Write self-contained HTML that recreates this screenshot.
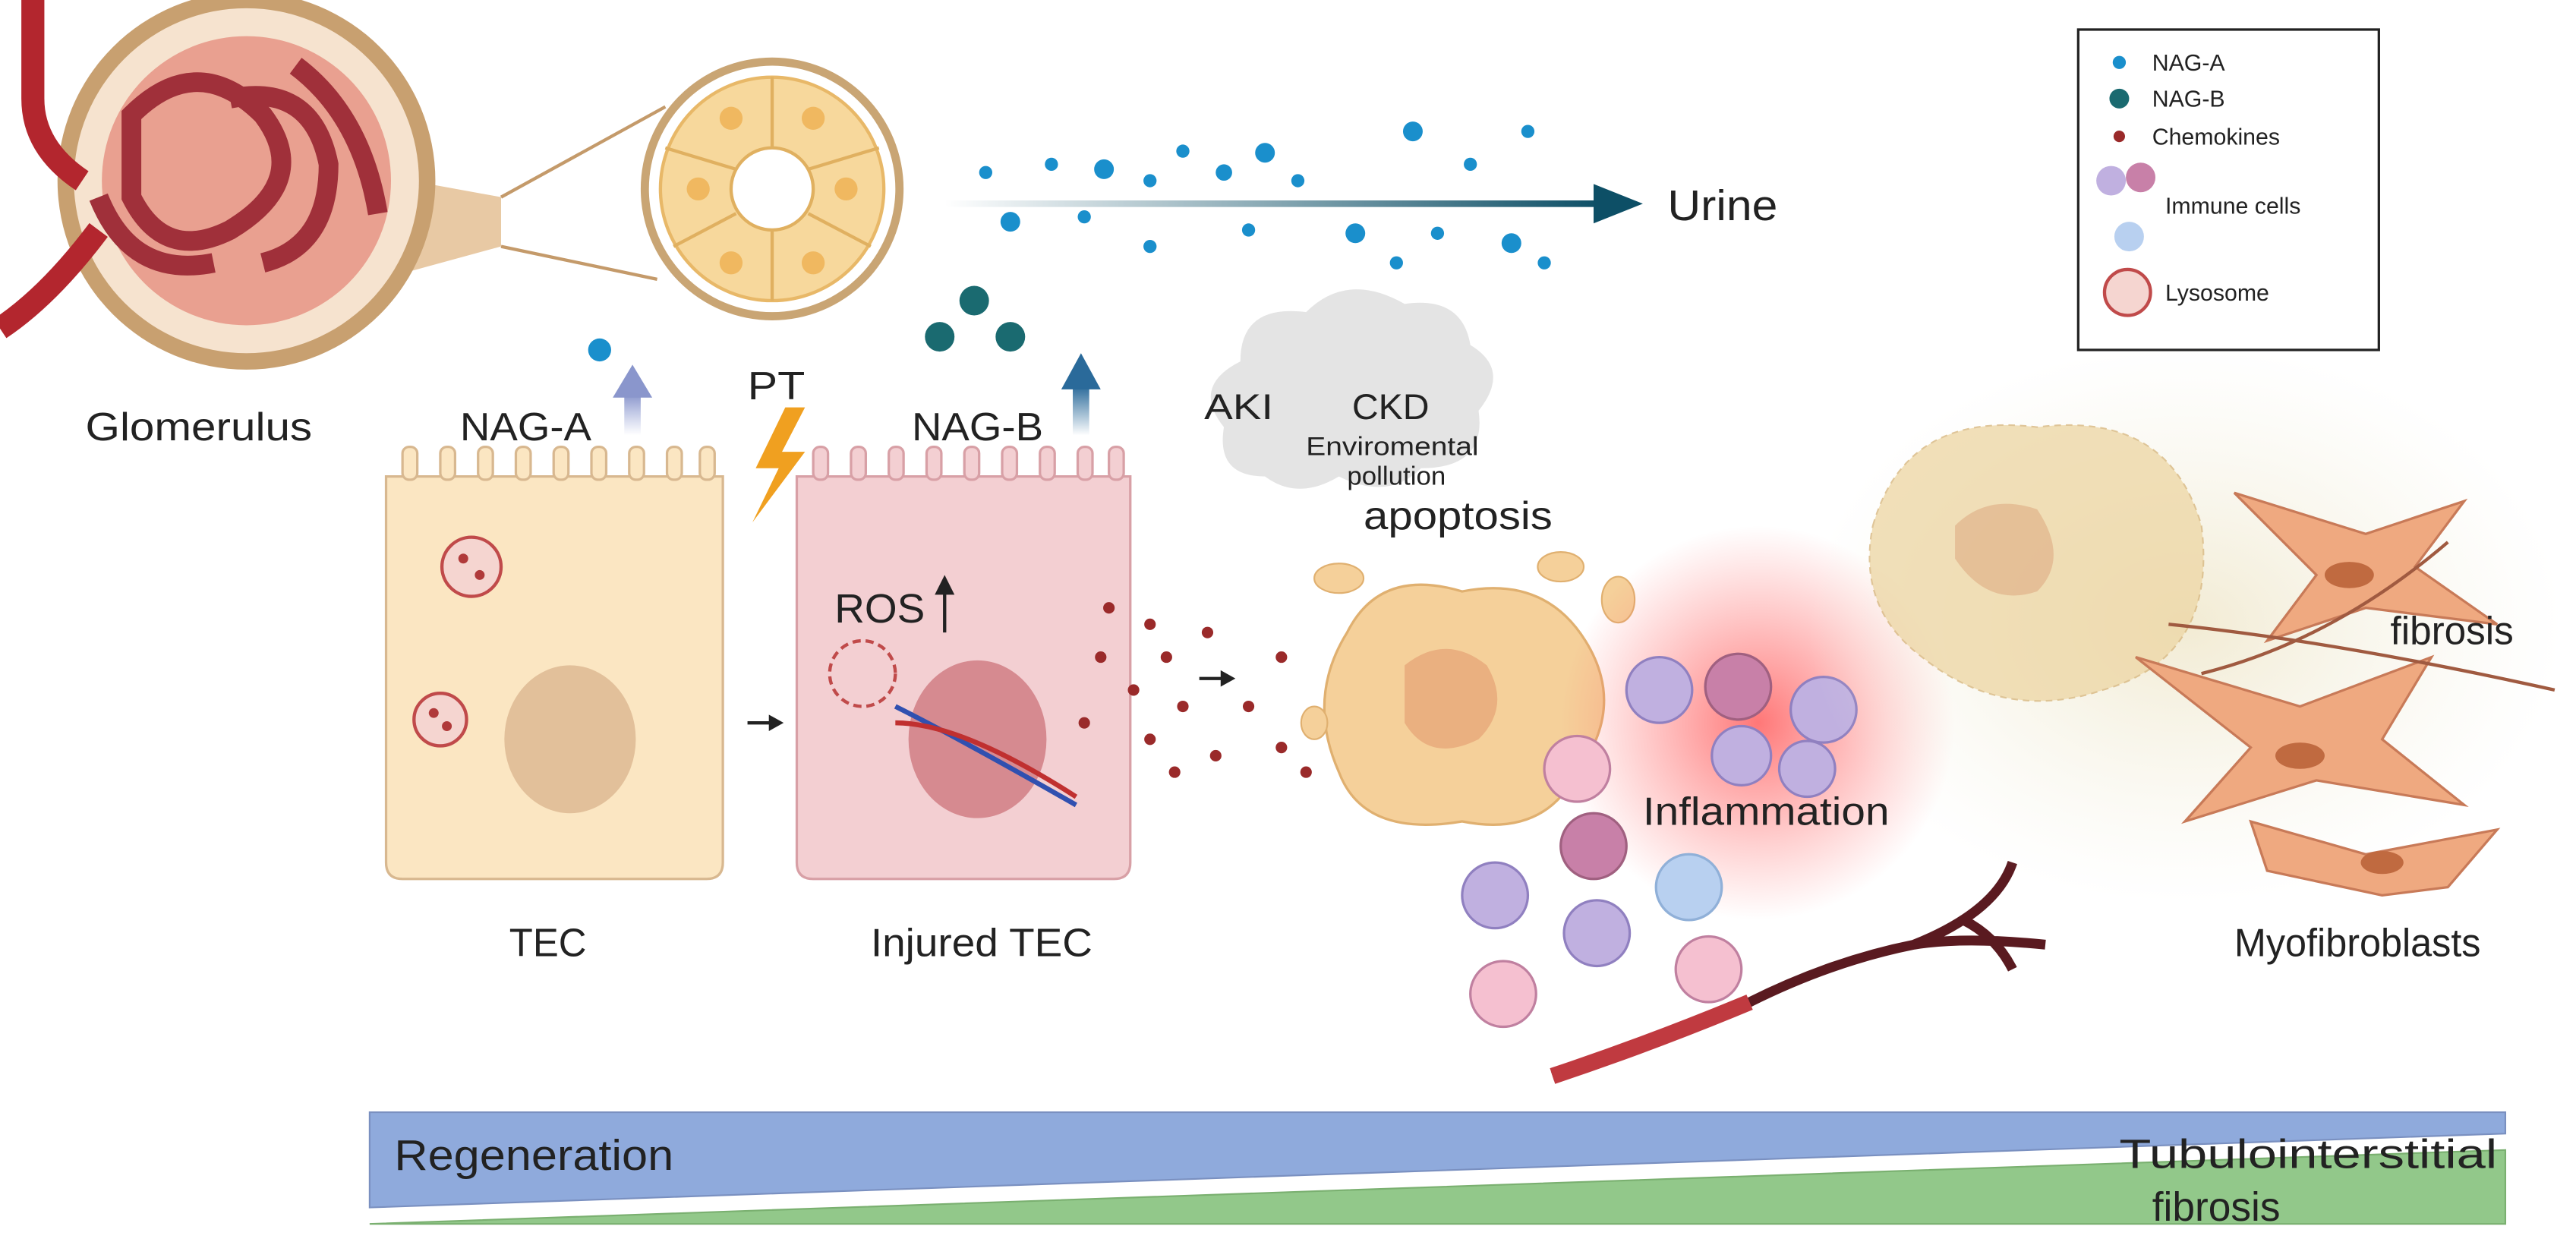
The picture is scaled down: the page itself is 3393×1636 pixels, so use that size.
<!DOCTYPE html>
<html><head><meta charset="utf-8"><style>
html,body{margin:0;padding:0;background:#fff;}
svg{display:block;}
text{font-family:"Liberation Sans",sans-serif;fill:#222;}
</style></head><body>
<svg width="3393" height="1636" viewBox="0 0 1568 756" preserveAspectRatio="none" xmlns="http://www.w3.org/2000/svg">
<defs>
<linearGradient id="ua" x1="0" x2="1"><stop offset="0" stop-color="#0d4f66" stop-opacity="0"/><stop offset="1" stop-color="#0d4f66"/></linearGradient>
<linearGradient id="pa" x1="0" y1="1" x2="0" y2="0"><stop offset="0" stop-color="#9aa6d8" stop-opacity="0"/><stop offset="1" stop-color="#8a96cc"/></linearGradient>
<linearGradient id="ba" x1="0" y1="1" x2="0" y2="0"><stop offset="0" stop-color="#2a6a9a" stop-opacity="0"/><stop offset="1" stop-color="#2a6a9a"/></linearGradient>
<radialGradient id="inf"><stop offset="0" stop-color="#ff4a4a" stop-opacity=".75"/><stop offset="1" stop-color="#ff6a6a" stop-opacity="0"/></radialGradient>
<radialGradient id="fib"><stop offset="0" stop-color="#efe6c8" stop-opacity=".8"/><stop offset="1" stop-color="#f2f0e0" stop-opacity="0"/></radialGradient>
</defs>
<!-- glomerulus -->
<path d="M250,110 L305,120 L305,150 L250,165Z" fill="#e8c9a4"/>
<circle cx="150" cy="110" r="115" fill="#c8a070"/>
<circle cx="150" cy="110" r="105" fill="#f6e3cf"/>
<circle cx="150" cy="110" r="88" fill="#e9a090"/>
<path d="M80,70 q40,-40 80,0 q30,40 -20,70 q-40,20 -60,-20z M140,60 q50,-10 60,40 q0,50 -40,60 M60,120 q20,50 70,40 M180,40 q40,30 50,90" fill="none" stroke="#a0303a" stroke-width="12"/>
<path d="M20,0 L20,60 q0,30 30,50 M0,200 q30,-20 60,-60" fill="none" stroke="#b3262e" stroke-width="14"/>
<path d="M305,120 L405,65 M305,150 L400,170" stroke="#c49a6a" stroke-width="2"/>
<circle cx="470" cy="115" r="80" fill="#c9a574"/>
<circle cx="470" cy="115" r="75" fill="#fff"/>
<circle cx="470" cy="115" r="68" fill="#f7d89c" stroke="#e8b868" stroke-width="2"/>
<g stroke="#e0b060" stroke-width="2"><line x1="470" y1="47" x2="470" y2="90"/><line x1="470" y1="140" x2="470" y2="183"/><line x1="405" y1="90" x2="448" y2="103"/><line x1="535" y1="90" x2="492" y2="103"/><line x1="410" y1="150" x2="448" y2="130"/><line x1="530" y1="150" x2="492" y2="130"/></g>
<circle cx="470" cy="115" r="25" fill="#fff" stroke="#e0b060" stroke-width="2"/>
<g fill="#f0b860"><circle cx="445" cy="72" r="7"/><circle cx="495" cy="72" r="7"/><circle cx="425" cy="115" r="7"/><circle cx="515" cy="115" r="7"/><circle cx="445" cy="160" r="7"/><circle cx="495" cy="160" r="7"/></g>
<path d="M478,248 L460,285 L474,285 L458,318 L490,275 L476,275 L490,248Z" fill="#f0a020"/>
<!-- urine -->
<rect x="575" y="122" width="400" height="4" fill="url(#ua)"/>
<path d="M970,112 L1000,124 L970,136Z" fill="#0d4f66"/>
<g fill="#1a8fcc"><circle cx="600" cy="105" r="4"/><circle cx="615" cy="135" r="6"/><circle cx="640" cy="100" r="4"/><circle cx="672" cy="103" r="6"/><circle cx="660" cy="132" r="4"/><circle cx="700" cy="110" r="4"/><circle cx="720" cy="92" r="4"/><circle cx="745" cy="105" r="5"/><circle cx="770" cy="93" r="6"/><circle cx="790" cy="110" r="4"/><circle cx="825" cy="142" r="6"/><circle cx="860" cy="80" r="6"/><circle cx="895" cy="100" r="4"/><circle cx="930" cy="80" r="4"/><circle cx="920" cy="148" r="6"/><circle cx="940" cy="160" r="4"/><circle cx="700" cy="150" r="4"/><circle cx="760" cy="140" r="4"/><circle cx="850" cy="160" r="4"/><circle cx="875" cy="142" r="4"/></g>
<!-- legend -->
<rect x="1265" y="18" width="183" height="195" fill="#fff" stroke="#222" stroke-width="1.5"/>
<circle cx="1290" cy="38" r="4" fill="#1a8fcc"/><text x="1310" y="43" font-size="14">NAG-A</text>
<circle cx="1290" cy="60" r="6" fill="#1a6a70"/><text x="1310" y="65" font-size="14">NAG-B</text>
<circle cx="1290" cy="83" r="3.5" fill="#9a2a2a"/><text x="1310" y="88" font-size="14">Chemokines</text>
<circle cx="1285" cy="110" r="9" fill="#c0b0e0"/><circle cx="1303" cy="108" r="9" fill="#c880a8"/><circle cx="1296" cy="144" r="9" fill="#b8d0f0"/>
<text x="1318" y="130" font-size="14">Immune cells</text>
<circle cx="1295" cy="178" r="14" fill="#f5d5d0" stroke="#c04a4a" stroke-width="2"/><text x="1318" y="183" font-size="14">Lysosome</text>
<!-- TEC -->
<path d="M235,290 L440,290 L440,525 q0,10 -10,10 L245,535 q-10,0 -10,-10Z" fill="#fbe6c2" stroke="#d8b890" stroke-width="1.5"/>
<g fill="#fbe6c2" stroke="#d8b890" stroke-width="1.5"><rect x="245" y="272" width="9" height="20" rx="4"/><rect x="268" y="272" width="9" height="20" rx="4"/><rect x="291" y="272" width="9" height="20" rx="4"/><rect x="314" y="272" width="9" height="20" rx="4"/><rect x="337" y="272" width="9" height="20" rx="4"/><rect x="360" y="272" width="9" height="20" rx="4"/><rect x="383" y="272" width="9" height="20" rx="4"/><rect x="406" y="272" width="9" height="20" rx="4"/><rect x="426" y="272" width="9" height="20" rx="4"/></g>
<ellipse cx="347" cy="450" rx="40" ry="45" fill="#e2c09a"/>
<circle cx="287" cy="345" r="18" fill="#f5d5d0" stroke="#c04a4a" stroke-width="2"/><circle cx="268" cy="438" r="16" fill="#f5d5d0" stroke="#c04a4a" stroke-width="2"/>
<g fill="#b03a3a"><circle cx="282" cy="340" r="3"/><circle cx="292" cy="350" r="3"/><circle cx="264" cy="434" r="3"/><circle cx="272" cy="442" r="3"/></g>
<rect x="380" y="240" width="10" height="25" fill="url(#pa)"/><path d="M373,242 L385,222 L397,242Z" fill="#8a96cc"/>
<circle cx="365" cy="213" r="7" fill="#1a8fcc"/>
<path d="M455,440 L470,440" stroke="#222" stroke-width="2"/><path d="M468,435 L477,440 L468,445Z" fill="#222"/>
<!-- injured TEC -->
<path d="M485,290 L688,290 L688,525 q0,10 -10,10 L495,535 q-10,0 -10,-10Z" fill="#f3cfd2" stroke="#d8a0a6" stroke-width="1.5"/>
<g fill="#f3cfd2" stroke="#d8a0a6" stroke-width="1.5"><rect x="495" y="272" width="9" height="20" rx="4"/><rect x="518" y="272" width="9" height="20" rx="4"/><rect x="541" y="272" width="9" height="20" rx="4"/><rect x="564" y="272" width="9" height="20" rx="4"/><rect x="587" y="272" width="9" height="20" rx="4"/><rect x="610" y="272" width="9" height="20" rx="4"/><rect x="633" y="272" width="9" height="20" rx="4"/><rect x="656" y="272" width="9" height="20" rx="4"/><rect x="675" y="272" width="9" height="20" rx="4"/></g>
<ellipse cx="595" cy="450" rx="42" ry="48" fill="#d68a90"/>
<path d="M545,430 q40,20 110,60" stroke="#3050b0" stroke-width="3" fill="none"/><path d="M545,440 q40,0 110,45" stroke="#c03030" stroke-width="3" fill="none"/>
<circle cx="525" cy="410" r="20" fill="none" stroke="#c04a4a" stroke-width="2" stroke-dasharray="5 3"/>
<path d="M575,385 L575,360" stroke="#222" stroke-width="2"/><path d="M569,362 L575,350 L581,362Z" fill="#222"/>
<rect x="653" y="235" width="10" height="30" fill="url(#ba)"/><path d="M646,237 L658,215 L670,237Z" fill="#2a6a9a"/>
<g fill="#1a6a70"><circle cx="593" cy="183" r="9"/><circle cx="572" cy="205" r="9"/><circle cx="615" cy="205" r="9"/></g>
<!-- chemokines -->
<g fill="#9a2a2a"><circle cx="675" cy="370" r="3.5"/><circle cx="700" cy="380" r="3.5"/><circle cx="670" cy="400" r="3.5"/><circle cx="690" cy="420" r="3.5"/><circle cx="710" cy="400" r="3.5"/><circle cx="720" cy="430" r="3.5"/><circle cx="735" cy="385" r="3.5"/><circle cx="660" cy="440" r="3.5"/><circle cx="700" cy="450" r="3.5"/><circle cx="740" cy="460" r="3.5"/><circle cx="760" cy="430" r="3.5"/><circle cx="780" cy="400" r="3.5"/><circle cx="780" cy="455" r="3.5"/><circle cx="715" cy="470" r="3.5"/><circle cx="795" cy="470" r="3.5"/></g>
<path d="M730,413 L745,413" stroke="#222" stroke-width="2"/><path d="M743,408 L752,413 L743,418Z" fill="#222"/>
<!-- cloud -->
<path d="M770,290 q-30,0 -25,-30 q-20,-25 10,-40 q0,-35 40,-30 q25,-25 60,-5 q35,-5 40,25 q25,15 5,40 q5,35 -35,35 q-20,20 -50,5 q-25,15 -45,0z" fill="#e4e4e4"/>
<!-- apoptotic cell -->
<path d="M820,385 q20,-40 70,-25 q50,-10 75,30 q25,40 -5,80 q-20,40 -70,30 q-60,10 -75,-30 q-20,-45 5,-85z" fill="#f5d09a" stroke="#e0b070" stroke-width="1.5"/>
<path d="M855,405 q25,-20 50,0 q15,25 -5,45 q-30,15 -45,-10z" fill="#eab080"/>
<g fill="#f5d09a" stroke="#e0b070"><ellipse cx="815" cy="352" rx="15" ry="9"/><ellipse cx="950" cy="345" rx="14" ry="9"/><ellipse cx="985" cy="365" rx="10" ry="14"/><ellipse cx="800" cy="440" rx="8" ry="10"/></g>
<!-- inflammation -->
<circle cx="1070" cy="440" r="120" fill="url(#inf)"/>
<g stroke-width="1.5">
<circle cx="1010" cy="420" r="20" fill="#c0b0e0" stroke="#9080c0"/><circle cx="1058" cy="418" r="20" fill="#c880a8" stroke="#a06080"/><circle cx="1110" cy="432" r="20" fill="#c0b0e0" stroke="#9080c0"/>
<circle cx="1060" cy="460" r="18" fill="#c0b0e0" stroke="#9080c0"/><circle cx="1100" cy="468" r="17" fill="#c0b0e0" stroke="#9080c0"/>
<circle cx="960" cy="468" r="20" fill="#f5c0d0" stroke="#c080a0"/><circle cx="970" cy="515" r="20" fill="#c880a8" stroke="#a06080"/><circle cx="1028" cy="540" r="20" fill="#b8d0f0" stroke="#90b0d8"/>
<circle cx="910" cy="545" r="20" fill="#c0b0e0" stroke="#9080c0"/><circle cx="972" cy="568" r="20" fill="#c0b0e0" stroke="#9080c0"/><circle cx="915" cy="605" r="20" fill="#f5c0d0" stroke="#c080a0"/><circle cx="1040" cy="590" r="20" fill="#f5c0d0" stroke="#c080a0"/>
</g>
<!-- vessel -->
<path d="M945,655 q60,-20 120,-45 q50,-25 100,-35 q50,-20 60,-50 M1165,575 q30,-5 80,0 M1195,560 q20,10 30,30" fill="none" stroke="#5a1a20" stroke-width="6"/>
<path d="M945,655 q60,-20 120,-45" fill="none" stroke="#c03a40" stroke-width="10"/>
<!-- fibrosis -->
<ellipse cx="1330" cy="380" rx="230" ry="170" fill="url(#fib)"/>
<path d="M1140,320 q20,-70 100,-60 q80,-10 100,60 q10,80 -60,100 q-60,20 -110,-20 q-40,-30 -30,-80z" fill="#eed8a8" opacity=".8" stroke="#d8b880" stroke-dasharray="4 3"/>
<path d="M1190,320 q20,-20 50,-10 q20,30 0,50 q-30,10 -50,-20z" fill="#e2b890" opacity=".8"/>
<g fill="#efa980" stroke="#c87a58" stroke-width="1.5">
<path d="M1360,300 L1440,325 L1500,305 L1470,345 L1520,380 L1440,370 L1380,390 L1410,350Z"/>
<path d="M1300,400 L1400,430 L1480,400 L1450,450 L1500,490 L1410,475 L1330,500 L1370,455Z"/>
<path d="M1370,500 L1440,520 L1520,505 L1490,540 L1450,545 L1380,530Z"/>
</g>
<g fill="#c06a40"><ellipse cx="1430" cy="350" rx="15" ry="8"/><ellipse cx="1400" cy="460" rx="15" ry="8"/><ellipse cx="1450" cy="525" rx="13" ry="7"/></g>
<path d="M1320,380 q100,10 235,40 M1340,410 q80,-20 150,-80" stroke="#a05a40" stroke-width="2" fill="none"/>
<!-- bottom bars -->
<polygon points="225,677 1525,677 1525,690 225,735" fill="#8faadc" stroke="#7a90c0"/>
<polygon points="225,745 1525,700 1525,745" fill="#92c88a" stroke="#7ab070"/>
<!-- labels -->
<g font-size="24">
<text x="52" y="268" textLength="138" lengthAdjust="spacingAndGlyphs">Glomerulus</text>
<text x="455" y="243" textLength="35" lengthAdjust="spacingAndGlyphs">PT</text>
<text x="1015" y="134" font-size="26" textLength="67" lengthAdjust="spacingAndGlyphs">Urine</text>
<text x="280" y="268" textLength="80" lengthAdjust="spacingAndGlyphs">NAG-A</text>
<text x="310" y="582" textLength="47" lengthAdjust="spacingAndGlyphs">TEC</text>
<text x="508" y="379" font-size="25" textLength="55" lengthAdjust="spacingAndGlyphs">ROS</text>
<text x="555" y="268" textLength="80" lengthAdjust="spacingAndGlyphs">NAG-B</text>
<text x="530" y="582" textLength="135" lengthAdjust="spacingAndGlyphs">Injured TEC</text>
<text x="830" y="322" textLength="115" lengthAdjust="spacingAndGlyphs">apoptosis</text>
<text x="1000" y="502" textLength="150" lengthAdjust="spacingAndGlyphs">Inflammation</text>
<text x="1455" y="392" textLength="75" lengthAdjust="spacingAndGlyphs">fibrosis</text>
<text x="1360" y="582" textLength="150" lengthAdjust="spacingAndGlyphs">Myofibroblasts</text>
<text x="240" y="712" font-size="26" textLength="170" lengthAdjust="spacingAndGlyphs">Regeneration</text>
<text x="1290" y="711" font-size="25" textLength="230" lengthAdjust="spacingAndGlyphs">Tubulointerstitial</text>
<text x="1310" y="743" font-size="25" textLength="78" lengthAdjust="spacingAndGlyphs">fibrosis</text>
<text x="733" y="255" font-size="22" textLength="42" lengthAdjust="spacingAndGlyphs">AKI</text>
<text x="823" y="255" font-size="22" textLength="47" lengthAdjust="spacingAndGlyphs">CKD</text>
<text x="795" y="277" font-size="16" textLength="105" lengthAdjust="spacingAndGlyphs">Enviromental</text>
<text x="820" y="295" font-size="16" textLength="60" lengthAdjust="spacingAndGlyphs">pollution</text>
</g>
</svg>
</body></html>
